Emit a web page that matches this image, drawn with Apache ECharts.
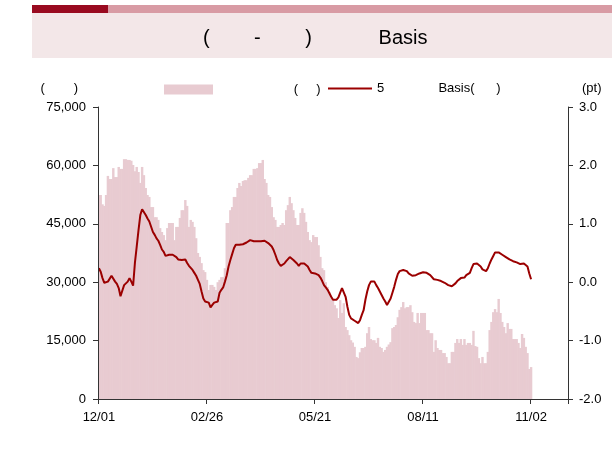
<!DOCTYPE html>
<html>
<head>
<meta charset="utf-8">
<script src="https://cdn.jsdelivr.net/npm/echarts@6/dist/echarts.min.js"></script>
<style>
html,body{margin:0;padding:0;background:#fff;}
#chart{width:612px;height:450px;}
</style>
</head>
<body>
<div id="chart"></div>
<script>
// ---- data ----
const tickLabels = ['12/01', '02/26', '05/21', '08/11', '11/02'];
const slotsPerTick = 60;
const slotCount = 261;

const volume = [
52400,52400,50000,49600,52400,57300,56500,56500,59300,57000,
57000,59600,59100,59100,61600,61600,61400,61400,61200,60100,
58500,59600,58300,55500,59600,57500,54200,52400,51900,49300,
49300,46700,46700,46000,43900,42900,42100,40800,43900,45200,
45200,45200,40800,44200,44200,46500,48500,48500,51100,49600,
44200,46000,45500,44200,41300,37500,36500,34900,33100,32600,
30600,28000,29300,29300,28800,28000,30000,30600,31300,31300,
33600,45200,45200,48500,49300,51900,51900,54200,55500,54700,
56000,56200,56200,56800,57500,57500,59100,59100,59300,60600,
60600,61400,56500,55500,52400,51900,49300,46700,46000,44200,
44200,44700,45200,44700,48500,49800,51900,50300,48500,46500,
44700,44700,47800,49000,47800,45500,42900,40800,40300,42100,
41600,41600,39500,36500,33600,33100,30000,28800,27500,26200,
25400,24100,23300,20800,25400,22100,24600,18500,17700,16400,
15100,14500,13400,10800,10500,12000,13100,13100,13400,16900,
18500,15400,15100,15100,14400,15700,13400,13100,12100,12600,
13400,14000,14600,18200,18500,19000,21000,22900,23600,24900,
23300,23600,23600,24100,22300,19800,19500,22100,19500,22100,
22100,22100,17700,17700,16900,16900,12100,15100,13100,12600,
12600,11800,11800,10800,9200,9200,12100,12100,14400,15400,
14400,15400,13900,15400,13900,14400,14400,13900,17500,13600,
13400,10500,9200,10800,9200,9200,12100,17700,19800,22300,
23100,22300,25700,22100,19800,18500,16900,19500,18000,18000,
15400,15400,15400,14400,13100,16700,15700,13400,11800,7700,
8200
];

const basis5 = [
0.24,0.18,0.07,-0.01,-0.03,0.01,0.04,0.11,0.14,0.01,
-0.03,-0.10,-0.24,-0.22,-0.05,-0.03,0.01,0.07,0.01,-0.06,
0.33,0.61,0.89,1.15,1.25,1.24,1.15,1.09,1.04,0.95,
0.86,0.81,0.75,0.71,0.64,0.56,0.52,0.45,0.45,0.47,
0.47,0.47,0.45,0.43,0.39,0.38,0.38,0.39,0.39,0.33,
0.28,0.25,0.21,0.16,0.11,0.04,-0.03,-0.16,-0.28,-0.33,
-0.30,-0.35,-0.43,-0.39,-0.35,-0.36,-0.33,-0.18,-0.13,-0.09,
0.01,0.12,0.27,0.38,0.48,0.58,0.64,0.65,0.64,0.65,
0.65,0.67,0.68,0.71,0.72,0.71,0.70,0.70,0.70,0.70,
0.70,0.71,0.71,0.70,0.67,0.65,0.61,0.55,0.47,0.38,
0.32,0.28,0.28,0.32,0.36,0.39,0.43,0.40,0.38,0.35,
0.32,0.28,0.32,0.35,0.32,0.29,0.27,0.21,0.16,0.15,
0.15,0.14,0.12,0.08,0.02,-0.05,-0.09,-0.13,-0.16,-0.25,
-0.30,-0.33,-0.30,-0.26,-0.18,-0.10,-0.13,-0.25,-0.42,-0.56,
-0.62,-0.65,-0.66,-0.68,-0.70,-0.65,-0.56,-0.48,-0.30,-0.16,
-0.05,0.01,0.04,0.01,-0.05,-0.10,-0.16,-0.22,-0.28,-0.33,
-0.39,-0.36,-0.28,-0.18,-0.08,0.04,0.14,0.19,0.21,0.21,
0.21,0.19,0.15,0.12,0.11,0.12,0.12,0.14,0.15,0.16,
0.17,0.15,0.16,0.15,0.12,0.09,0.05,0.04,0.04,0.01,
0.02,0.02,-0.01,-0.02,-0.05,-0.07,-0.07,-0.05,-0.02,0.02,
0.05,0.07,0.07,0.08,0.12,0.15,0.16,0.24,0.31,0.32,
0.32,0.31,0.27,0.22,0.19,0.19,0.24,0.32,0.39,0.45,
0.51,0.52,0.51,0.49,0.47,0.45,0.43,0.41,0.39,0.38,
0.36,0.35,0.34,0.32,0.31,0.34,0.32,0.29,0.27,0.15,
0.05
];

const leftTicks = { min: 0, max: 75000, interval: 15000 };
const rightTicks = { min: -2, max: 3, interval: 1 };

const titleParts = ['(', '-', ')', 'Basis'];
const barName = '                     (     )';
const lineName = '5               Basis(      )';
const leftUnit = '(        )';
const rightUnit = '(pt)';

// ---- chart ----
const categories = Array.from({ length: slotCount }, (_, i) =>
  i % slotsPerTick === 0 ? tickLabels[i / slotsPerTick] : String(i));

const FONT = '"Liberation Sans", Arial, sans-serif';
const chart = echarts.init(document.getElementById('chart'), null, { renderer: 'canvas' });

const titleText = titleParts[0] + ' '.repeat(8) + titleParts[1] + ' '.repeat(8) + titleParts[2] + ' '.repeat(12) + titleParts[3];

chart.setOption({
  animation: false,
  backgroundColor: '#ffffff',
  textStyle: { fontFamily: FONT },
  graphic: [
    { type: 'rect', shape: { x: 32, y: 5, width: 76, height: 8 }, style: { fill: '#990a20' } },
    { type: 'rect', shape: { x: 108, y: 5, width: 504, height: 8 }, style: { fill: '#d89ba4' } },
    { type: 'rect', shape: { x: 32, y: 13, width: 580, height: 45 }, style: { fill: '#f3e7e8' } },
    { type: 'text', x: 203, y: 38, style: { text: titleText, font: '20px ' + FONT, fill: '#000', verticalAlign: 'middle', align: 'left' } }
  ],
  legend: [
    {
      data: [{ name: barName, icon: 'rect' }],
      left: 164, top: 83, padding: 0, itemWidth: 49, itemHeight: 10, itemGap: 5,
      textStyle: { fontSize: 13, color: '#000', fontFamily: FONT }
    },
    {
      data: [{ name: lineName, icon: 'rect', itemStyle: { color: '#9b0000' } }],
      left: 328, top: 82, padding: 0, itemWidth: 44, itemHeight: 2, itemGap: 5,
      textStyle: { fontSize: 13, color: '#000', fontFamily: FONT }
    }
  ],
  grid: { left: 98, right: 44, top: 107, bottom: 51, containLabel: false },
  xAxis: {
    type: 'category',
    data: categories,
    boundaryGap: true,
    z: 10,
    axisLine: { lineStyle: { color: '#333', width: 1 } },
    axisTick: { show: true, interval: slotsPerTick - 1, length: 5, lineStyle: { color: '#333' } },
    axisLabel: {
      interval: slotsPerTick - 1, margin: 12, fontSize: 13, color: '#000', fontFamily: FONT,
      formatter: (v, i) => (i % slotsPerTick === 0 ? tickLabels[i / slotsPerTick] : '')
    },
    splitLine: { show: false }
  },
  yAxis: [
    {
      type: 'value', position: 'left', z: 10,
      min: leftTicks.min, max: leftTicks.max, interval: leftTicks.interval,
      name: leftUnit, nameLocation: 'end', nameGap: 12,
      nameTextStyle: { align: 'right', padding: [0, 20, 0, 0], fontSize: 13, color: '#000', fontFamily: FONT },
      axisLine: { show: true, lineStyle: { color: '#333' } },
      axisTick: { show: true, length: 5, lineStyle: { color: '#333' } },
      axisLabel: { margin: 12, fontSize: 13, color: '#000', fontFamily: FONT,
        formatter: v => v.toLocaleString('en-US') },
      splitLine: { show: false }
    },
    {
      type: 'value', position: 'right', z: 10,
      min: rightTicks.min, max: rightTicks.max, interval: rightTicks.interval,
      name: rightUnit, nameLocation: 'end', nameGap: 12,
      nameTextStyle: { align: 'left', padding: [0, 0, 0, 14], fontSize: 13, color: '#000', fontFamily: FONT },
      axisLine: { show: true, lineStyle: { color: '#333' } },
      axisTick: { show: true, length: 5, lineStyle: { color: '#333' } },
      axisLabel: { margin: 11, fontSize: 13, color: '#000', fontFamily: FONT,
        formatter: v => v.toFixed(1) },
      splitLine: { show: false }
    }
  ],
  series: [
    {
      name: barName, type: 'bar', yAxisIndex: 0, data: volume,
      barWidth: '135%', barGap: '0%',
      itemStyle: { color: '#e8cbd1' },
      z: 2
    },
    {
      name: lineName, type: 'line', yAxisIndex: 1, data: basis5,
      symbol: 'none', showSymbol: false,
      lineStyle: { color: '#9b0000', width: 2 },
      itemStyle: { color: '#9b0000' },
      z: 3
    }
  ]
});
</script>
</body>
</html>
